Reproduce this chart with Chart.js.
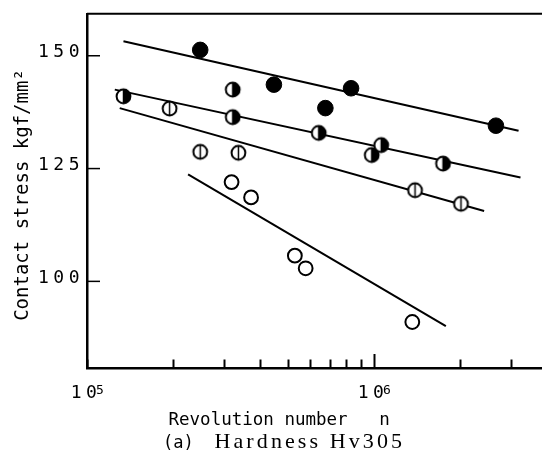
<!DOCTYPE html>
<html>
<head>
<meta charset="utf-8">
<script src="https://cdn.jsdelivr.net/npm/chart.js@4.4.0/dist/chart.umd.min.js"></script>
<style>
  html, body { margin: 0; padding: 0; background: #fff; }
  canvas { display: block; }
</style>
</head>
<body>
<canvas id="myChart" width="542" height="464"></canvas>
<script>
// values: revolution number n, contact stress kgf/mm2
const filledX = [2.48e5, 4.48e5, 6.77e5, 8.32e5, 2.66e6];
const filledY = [151.3, 143.6, 138.4, 142.8, 134.5];
const halfX = [1.34e5, 3.22e5, 3.22e5, 6.42e5, 9.82e5, 1.06e6, 1.74e6];
const halfY = [141.0, 142.5, 136.4, 132.9, 128.0, 130.2, 126.1];
const stripeX = [1.94e5, 2.48e5, 3.37e5, 1.39e6, 2.01e6];
const stripeY = [138.3, 128.7, 128.5, 120.2, 117.2];
const openX = [3.19e5, 3.73e5, 5.30e5, 5.78e5, 1.36e6];
const openY = [122.0, 118.6, 105.7, 102.9, 91.0];

// end points of the fitted lines
const fitFilledX = [1.34e5, 3.19e6];
const fitFilledY = [153.2, 133.4];
const fitHalfX = [1.25e5, 3.24e6];
const fitHalfY = [142.5, 123.0];
const fitStripeX = [1.30e5, 2.42e6];
const fitStripeY = [138.4, 115.6];
const fitOpenX = [2.25e5, 1.78e6];
const fitOpenY = [123.7, 90.1];

const xTicks = [1e5, 2e5, 3e5, 4e5, 5e5, 6e5, 7e5, 8e5, 9e5, 1e6, 2e6, 3e6];
const xTickLabels = ['10', '', '', '', '', '', '', '', '', '10', '', ''];
const xTickExponents = ['5', '', '', '', '', '', '', '', '', '6', '', ''];
const yTicks = [100, 125, 150];

const yTitle = 'Contact stress kgf/mm\u00b2';
const xTitle = 'Revolution number   n';
const caption = ['(a)', 'Hardness Hv305'];

const pts = (xs, ys) => xs.map((x, i) => ({x: x, y: ys[i]}));

// half filled and striped circles as small canvases
function marker(kind) {
    const c = document.createElement('canvas');
    c.width = 19;
    c.height = 19;
    const g = c.getContext('2d');
    const r = 6.9;
    g.fillStyle = '#fff';
    g.beginPath();
    g.arc(9.5, 9.5, r, 0, Math.PI * 2);
    g.fill();
    if (kind === 'half') {
        g.fillStyle = '#000';
        g.beginPath();
        g.arc(9.5, 9.5, r, -Math.PI / 2, Math.PI / 2);
        g.closePath();
        g.fill();
    }
    g.strokeStyle = '#000';
    g.lineWidth = 1.5;
    g.beginPath();
    g.moveTo(9.5, 9.5 - r);
    g.lineTo(9.5, 9.5 + r);
    g.stroke();
    g.lineWidth = 2;
    g.beginPath();
    g.arc(9.5, 9.5, r, 0, Math.PI * 2);
    g.stroke();
    return c;
}

const fitLine = (xs, ys) => ({
    data: pts(xs, ys),
    showLine: true,
    borderColor: '#000',
    borderWidth: 2,
    pointRadius: 0
});

const data = {
    datasets: [
        {data: pts(openX, openY), pointStyle: 'circle', pointRadius: 6.9, pointBorderWidth: 2,
         pointBackgroundColor: '#fff', pointBorderColor: '#000'},
        {data: pts(stripeX, stripeY), pointStyle: marker('stripe')},
        {data: pts(halfX, halfY), pointStyle: marker('half')},
        {data: pts(filledX, filledY), pointStyle: 'circle', pointRadius: 7.8, pointBorderWidth: 1,
         pointBackgroundColor: '#000', pointBorderColor: '#000'},
        fitLine(fitFilledX, fitFilledY),
        fitLine(fitHalfX, fitHalfY),
        fitLine(fitStripeX, fitStripeY),
        fitLine(fitOpenX, fitOpenY)
    ]
};

const frame = {
    id: 'frame',
    beforeDraw: (chart) => {
        // wide typewriter spacing for the tick numbers
        chart.ctx.letterSpacing = '4.5px';
    },
    afterDraw: (chart) => {
        const {ctx, chartArea} = chart;
        const xs = chart.scales.x;
        const ys = chart.scales.y;
        ctx.save();
        ctx.letterSpacing = '0px';
        ctx.strokeStyle = '#000';
        ctx.fillStyle = '#000';

        // top edge of the frame
        ctx.lineWidth = 2;
        ctx.beginPath();
        ctx.moveTo(chartArea.left, chartArea.top);
        ctx.lineTo(chartArea.right, chartArea.top);
        ctx.stroke();

        // inward tick marks
        xTicks.forEach((v, i) => {
            const px = Math.round(xs.getPixelForValue(v)) + 0.5;
            const len = xTickLabels[i] && i > 0 ? 14 : 8.5;
            ctx.beginPath();
            ctx.moveTo(px, chartArea.bottom);
            ctx.lineTo(px, chartArea.bottom - len);
            ctx.stroke();
        });
        ctx.lineWidth = 1.5;
        yTicks.forEach((v) => {
            const py = ys.getPixelForValue(v);
            ctx.beginPath();
            ctx.moveTo(chartArea.left, py);
            ctx.lineTo(chartArea.left + 13, py);
            ctx.stroke();
        });

        // exponents of the decade labels
        ctx.textAlign = 'left';
        ctx.textBaseline = 'alphabetic';
        ctx.font = '13px "DejaVu Sans Mono"';
        xTicks.forEach((v, i) => {
            if (!xTickExponents[i]) return;
            const px = xs.getPixelForValue(v) - 1;
            ctx.fillText(xTickExponents[i], px + 10, 394);
        });

        // axis titles and caption
        ctx.save();
        ctx.font = '19px "DejaVu Sans Mono"';
        ctx.translate(28, 195);
        ctx.rotate(-Math.PI / 2);
        ctx.textAlign = 'center';
        ctx.fillText(yTitle, 0, 0);
        ctx.restore();

        ctx.font = '17.5px "DejaVu Sans Mono"';
        ctx.fillText(xTitle, 168.5, 425);

        ctx.font = '17px "DejaVu Sans Mono"';
        ctx.fillText(caption[0], 163, 448);
        ctx.letterSpacing = '3.1px';
        ctx.font = '22px "Liberation Serif"';
        ctx.fillText(caption[1], 214.5, 448);
        ctx.restore();
    }
};

const config = {
    type: 'scatter',
    data: data,
    options: {
        responsive: false,
        animation: false,
        devicePixelRatio: 1,
        layout: {padding: {top: 12, right: 0, bottom: 0, left: 0}, autoPadding: false},
        plugins: {legend: {display: false}, tooltip: {enabled: false}},
        scales: {
            x: {
                type: 'logarithmic',
                position: 'bottom',
                min: 1e5,
                max: 3.85e6,
                grid: {display: false, drawTicks: false},
                border: {display: true, color: '#000', width: 2.5},
                ticks: {
                    autoSkip: false,
                    maxRotation: 0,
                    padding: 15,
                    labelOffset: -1,
                    color: '#000',
                    font: {family: 'DejaVu Sans Mono', size: 18},
                    callback: (v, i) => xTickLabels[i]
                },
                afterBuildTicks: (s) => { s.ticks = xTicks.map((v) => ({value: v})); },
                afterFit: (s) => { s.height = 96; }
            },
            y: {
                type: 'linear',
                position: 'left',
                min: 80.8,
                max: 159.3,
                grid: {display: false, drawTicks: false},
                border: {display: true, color: '#000', width: 2.5},
                ticks: {
                    padding: 3,
                    labelOffset: -3,
                    color: '#000',
                    font: {family: 'DejaVu Sans Mono', size: 18}
                },
                afterBuildTicks: (s) => { s.ticks = yTicks.map((v) => ({value: v})); },
                afterFit: (s) => { s.width = 87; }
            }
        }
    },
    plugins: [frame]
};

const myChart = new Chart(document.getElementById('myChart'), config);
</script>
</body>
</html>
